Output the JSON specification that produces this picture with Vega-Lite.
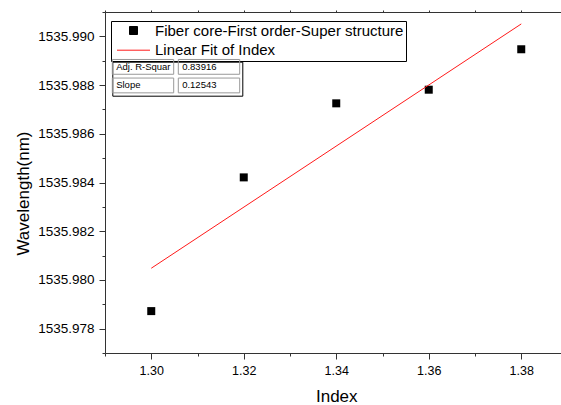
{
  "$schema": "https://vega.github.io/schema/vega-lite/v6.json",
  "width": 462.5,
  "height": 341,
  "autosize": {"type": "none"},
  "padding": {"left": 105, "top": 12, "right": 0, "bottom": 52},
  "background": "white",
  "config": {"view": {"stroke": null}, "font": "Liberation Sans"},
  "datasets": {
    "points": [
      {"index": 1.30, "wl": 1535.97872, "series": "Fiber core-First order-Super structure"},
      {"index": 1.32, "wl": 1535.98421, "series": "Fiber core-First order-Super structure"},
      {"index": 1.34, "wl": 1535.98725, "series": "Fiber core-First order-Super structure"},
      {"index": 1.36, "wl": 1535.98781, "series": "Fiber core-First order-Super structure"},
      {"index": 1.38, "wl": 1535.98947, "series": "Fiber core-First order-Super structure"}
    ],
    "fit": [
      {"index": 1.30, "wl": 1535.98048, "series": "Linear Fit of Index"},
      {"index": 1.38, "wl": 1535.99051, "series": "Linear Fit of Index"}
    ],
    "stats": [
      {"cell": "Adj. R-Squar"},
      {"cell": "0.83916"},
      {"cell": "Slope"},
      {"cell": "0.12543"}
    ]
  },
  "resolve": {"axis": {"x": "independent", "y": "independent"}},
  "layer": [
    {
      "data": {"name": "points"},
      "mark": {"type": "point", "filled": true, "opacity": 1, "size": 64},
      "encoding": {
        "x": {
          "field": "index", "type": "quantitative",
          "scale": {"domain": [1.29, 1.39], "nice": false, "zero": false},
          "axis": {
            "orient": "bottom",
            "title": "Index",
            "titleFontSize": 17, "titleFontWeight": "normal", "titleColor": "black",
            "titleBaseline": "alphabetic", "titleY": 48.5,
            "values": [1.29, 1.30, 1.31, 1.32, 1.33, 1.34, 1.35, 1.36, 1.37, 1.38, 1.39],
            "labelExpr": "round(datum.value*100) % 2 == 0 ? format(datum.value, '.2f') : ''",
            "labelFont": "Liberation Sans",
            "labelFontSize": 12.5, "labelColor": "black", "labelPadding": 5.5, "labelFlush": false, "labelOverlap": false,
            "tickSize": {"condition": {"test": "round(datum.value*100) % 2 == 0", "value": 6}, "value": 3},
            "tickColor": "#333", "domainColor": "#333", "grid": false
          }
        },
        "y": {
          "field": "wl", "type": "quantitative",
          "scale": {"domain": [1535.977, 1535.991], "nice": false, "zero": false},
          "axis": {
            "orient": "left",
            "title": "Wavelength(nm)",
            "titleFontSize": 17, "titleFontWeight": "normal", "titleColor": "black",
            "titleAngle": -90, "titleAlign": "center", "titleBaseline": "alphabetic",
            "titleX": -76.5, "titleY": 181,
            "values": [1535.977, 1535.978, 1535.979, 1535.98, 1535.981, 1535.982, 1535.983, 1535.984, 1535.985, 1535.986, 1535.987, 1535.988, 1535.989, 1535.99, 1535.991],
            "labelExpr": "round(datum.value*1000) % 2 == 0 ? format(datum.value, '.3f') : ''",
            "labelFont": "Liberation Sans",
            "labelFontSize": 13.5, "labelColor": "black", "labelPadding": 5, "labelFlush": false, "labelOverlap": false,
            "tickSize": {"condition": {"test": "round(datum.value*1000) % 2 == 0", "value": 6}, "value": 3},
            "tickColor": "#333", "domainColor": "#333", "grid": false
          }
        },
        "color": {
          "field": "series", "type": "nominal",
          "scale": {"domain": ["Fiber core-First order-Super structure", "Linear Fit of Index"], "range": ["black", "#ff1a1a"]},
          "legend": {
            "title": null, "orient": "none", "legendX": 6, "legendY": 9,
            "strokeColor": "black", "padding": 2, "rowPadding": 3.7,
            "labelFontSize": 15, "labelFont": "Liberation Sans", "labelColor": "black", "labelLimit": 400,
            "labelOffset": 14, "symbolOffset": 13, "symbolSize": 64, "symbolStrokeWidth": 1
          }
        },
        "shape": {
          "field": "series", "type": "nominal",
          "scale": {"domain": ["Fiber core-First order-Super structure", "Linear Fit of Index"], "range": ["square", "M-4.125,0H4.125"]},
          "legend": {
            "title": null, "orient": "none", "legendX": 6, "legendY": 9,
            "strokeColor": "black", "padding": 2, "rowPadding": 3.7,
            "labelFontSize": 15, "labelFont": "Liberation Sans", "labelColor": "black", "labelLimit": 400,
            "labelOffset": 14, "symbolOffset": 13, "symbolSize": 64, "symbolStrokeWidth": 1
          }
        }
      }
    },
    {
      "data": {"name": "fit"},
      "mark": {"type": "line", "strokeWidth": 1},
      "encoding": {
        "x": {
          "field": "index", "type": "quantitative",
          "axis": {
            "orient": "top", "title": null, "labels": false,
            "values": [1.29, 1.30, 1.31, 1.32, 1.33, 1.34, 1.35, 1.36, 1.37, 1.38, 1.39],
            "tickSize": 2, "tickColor": "#333", "domainColor": "#333", "grid": false
          }
        },
        "y": {"field": "wl", "type": "quantitative", "axis": null},
        "color": {"field": "series", "type": "nominal"}
      }
    },
    {
      "data": {"name": "stats"},
      "mark": {"type": "text", "fill": "transparent"},
      "encoding": {
        "text": {"value": ""},
        "opacity": {
          "field": "cell", "type": "nominal",
          "scale": {"domain": ["Adj. R-Squar", "0.83916", "Slope", "0.12543"], "range": [1, 1]},
          "legend": {
            "title": null, "orient": "none", "legendX": 7.3, "legendY": 49.7,
            "direction": "horizontal", "columns": 2,
            "padding": 0, "rowPadding": -1, "columnPadding": -1,
            "strokeColor": "black",
            "symbolSize": 4, "symbolOffset": 25.95,
            "symbolType": "M-30.7,-7.4H30.7V7.4H-30.7Z",
            "symbolFillColor": "transparent", "symbolStrokeColor": "#999", "symbolStrokeWidth": 1,
            "labelFontSize": 9.5, "labelFont": "Liberation Sans", "labelColor": "black", "labelLimit": 100,
            "labelOffset": -31.6, "labelAlign": "left",
            "labelExpr": "indexof(['0.83916','0.12543'], datum.label) >= 0 ? '\u00a0\u00a0\u00a0\u00a0\u00a0\u00a0\u00a0' + datum.label : datum.label",
            "encode": {
              "symbols": {
                "fill": {"value": "transparent"},
                "stroke": {"value": "#999"},
                "strokeWidth": {"value": 1}
              }
            }
          }
        }
      }
    }
  ]
}
